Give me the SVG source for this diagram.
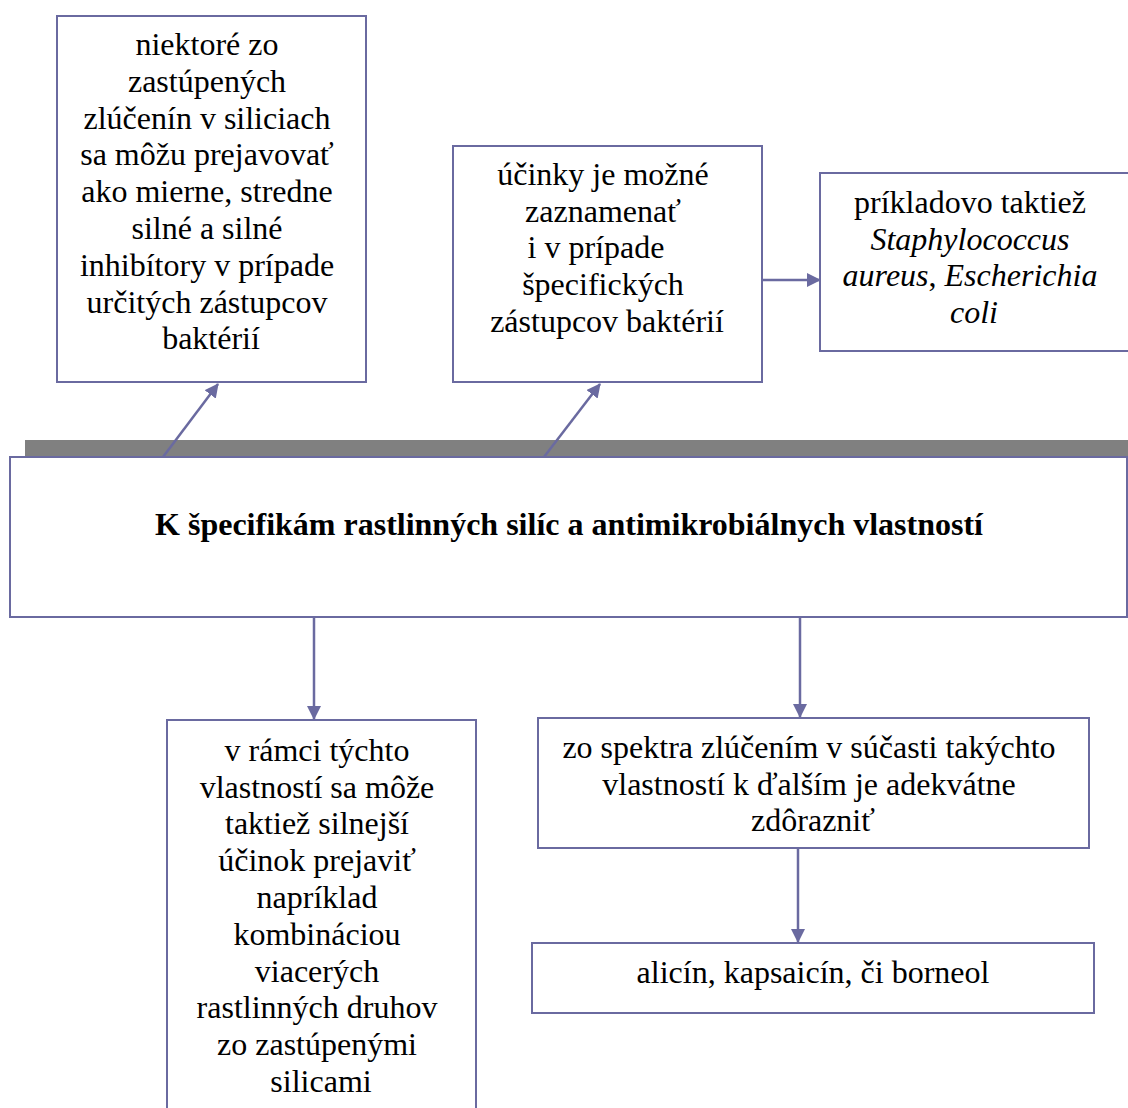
<svg xmlns="http://www.w3.org/2000/svg" width="1128" height="1108" viewBox="0 0 1128 1108">
  <defs>
    <style>
      .box { fill: #ffffff; stroke: #6a6aa0; stroke-width: 2; }
      .t { font-family: "Liberation Serif", "Times New Roman", serif; font-size: 32px; fill: #000; text-anchor: middle; }
      .title { font-weight: bold; }
      .link { stroke: #6a6aa0; stroke-width: 2.5; fill: none; }
    </style>
    <marker id="head" viewBox="0 0 14 14" refX="13" refY="7" markerWidth="14" markerHeight="14" markerUnits="userSpaceOnUse" orient="auto">
      <path d="M0,0 L14,7 L0,14 z" fill="#6a6aa0"/>
    </marker>
  </defs>
  <rect width="1128" height="1108" fill="#ffffff"/>

  <!-- shadow band above the central box -->
  <rect x="25" y="440" width="1103" height="16" fill="#808080"/>

  <g id="connectors">
    <line class="link" x1="163" y1="457" x2="218" y2="384" marker-end="url(#head)"/>
    <line class="link" x1="544" y1="457" x2="600" y2="384" marker-end="url(#head)"/>
    <line class="link" x1="763" y1="280" x2="820" y2="280" marker-end="url(#head)"/>
    <line class="link" x1="314" y1="617" x2="314" y2="719" marker-end="url(#head)"/>
    <line class="link" x1="800" y1="615" x2="800" y2="717" marker-end="url(#head)"/>
    <line class="link" x1="798" y1="846" x2="798" y2="942" marker-end="url(#head)"/>
  </g>

  <g id="center">
    <rect class="box" x="10" y="457" width="1117" height="160"/>
    <text class="t title" x="569" y="535">K špecifikám rastlinných silíc a antimikrobiálnych vlastností</text>
  </g>

  <g id="inhibitors">
    <rect class="box" x="57" y="16" width="309" height="366"/>
    <text class="t">
      <tspan x="211" y="55">niektoré zo</tspan>
      <tspan x="211" y="92">zastúpených</tspan>
      <tspan x="211" y="129">zlúčenín v siliciach</tspan>
      <tspan x="211" y="165">sa môžu prejavovať</tspan>
      <tspan x="211" y="202">ako mierne, stredne</tspan>
      <tspan x="211" y="239">silné a silné</tspan>
      <tspan x="211" y="276">inhibítory v prípade</tspan>
      <tspan x="211" y="313">určitých zástupcov</tspan>
      <tspan x="211" y="349">baktérií</tspan>
    </text>
  </g>

  <g id="effects">
    <rect class="box" x="453" y="146" width="309" height="236"/>
    <text class="t">
      <tspan x="607" y="185">účinky je možné</tspan>
      <tspan x="607" y="222">zaznamenať</tspan>
      <tspan x="600" y="258">i v prípade</tspan>
      <tspan x="607" y="295">špecifických</tspan>
      <tspan x="607" y="332">zástupcov baktérií</tspan>
    </text>
  </g>

  <g id="examples">
    <rect class="box" x="820" y="173" width="310" height="178"/>
    <text class="t">
      <tspan x="974" y="213">príkladovo taktiež</tspan>
      <tspan x="974" y="250" font-style="italic">Staphylococcus</tspan>
      <tspan x="974" y="286"><tspan font-style="italic">aureus</tspan>, <tspan font-style="italic">Escherichia</tspan></tspan>
      <tspan x="974" y="323" font-style="italic">coli</tspan>
    </text>
  </g>

  <g id="combination">
    <rect class="box" x="167" y="720" width="309" height="400"/>
    <text class="t">
      <tspan x="321" y="761">v rámci týchto</tspan>
      <tspan x="321" y="798">vlastností sa môže</tspan>
      <tspan x="321" y="834">taktiež silnejší</tspan>
      <tspan x="321" y="871">účinok prejaviť</tspan>
      <tspan x="321" y="908">napríklad</tspan>
      <tspan x="321" y="945">kombináciou</tspan>
      <tspan x="321" y="982">viacerých</tspan>
      <tspan x="321" y="1018">rastlinných druhov</tspan>
      <tspan x="321" y="1055">zo zastúpenými</tspan>
      <tspan x="321" y="1092">silicami</tspan>
    </text>
  </g>

  <g id="spectrum">
    <rect class="box" x="538" y="718" width="551" height="130"/>
    <text class="t">
      <tspan x="813" y="758">zo spektra zlúčením v súčasti takýchto</tspan>
      <tspan x="813" y="795">vlastností k ďalším je adekvátne</tspan>
      <tspan x="813" y="831">zdôrazniť</tspan>
    </text>
  </g>

  <g id="compounds">
    <rect class="box" x="532" y="943" width="562" height="70"/>
    <text class="t" x="813" y="983">alicín, kapsaicín, či borneol</text>
  </g>
</svg>
